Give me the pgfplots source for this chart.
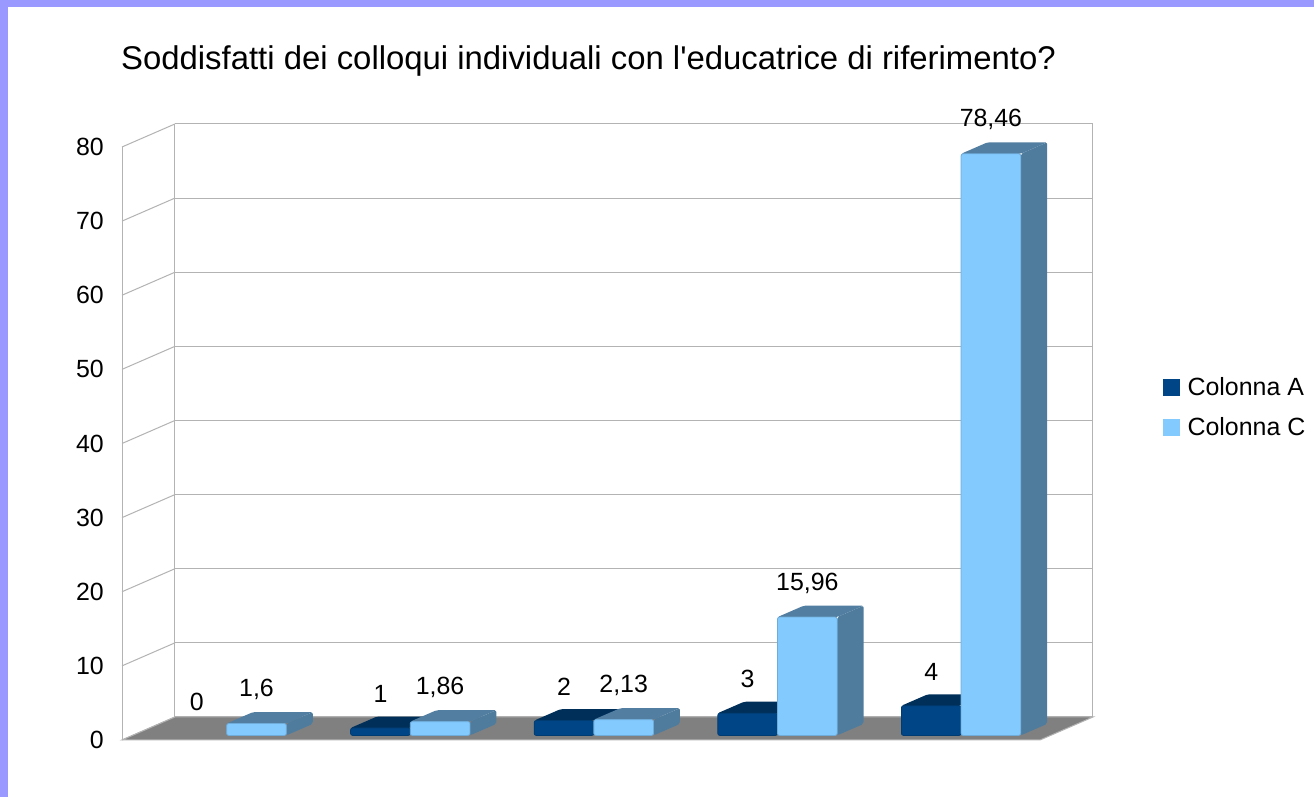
\documentclass[border=0pt]{standalone}
\usepackage{fontspec}
\setmainfont{Liberation Sans}
\usepackage{pgfplots}
\pgfplotsset{compat=1.18}
\definecolor{lav}{HTML}{9999FF}
\definecolor{gridc}{HTML}{B3B3B3}
\definecolor{floorc}{HTML}{808080}
\definecolor{colA}{HTML}{004586}
\definecolor{colAt}{HTML}{00305A}
\definecolor{colAs}{HTML}{002848}
\definecolor{colC}{HTML}{83CAFF}
\definecolor{colCt}{HTML}{527FA1}
\definecolor{colCs}{HTML}{4F7C9D}
\newcommand{\tdbar}[5]{%
 \pgfmathsetmacro\tbxa{#1}%
 \pgfmathsetmacro\tbxb{#1+0.325}%
 \pgfmathsetmacro\tbxc{#1+0.325+0.144}%
 \pgfmathsetmacro\tbxd{#1+0.144}%
 \pgfmathsetmacro\tbya{0.62}%
 \pgfmathsetmacro\tbyb{#2+0.62}%
 \pgfmathsetmacro\tbyc{0.62+1.55}%
 \pgfmathsetmacro\tbyd{#2+0.62+1.55}%
 \edef\tbdoit{%
  \noexpand\addplot[fill=#5,draw=none,rounded corners=2bp] coordinates {(\tbxb,\tbya) (\tbxc,\tbyc) (\tbxc,\tbyd) (\tbxb,\tbyb)} -- cycle;
  \noexpand\addplot[fill=#4,draw=none,rounded corners=2bp] coordinates {(\tbxa,\tbyb) (\tbxb,\tbyb) (\tbxc,\tbyd) (\tbxd,\tbyd)} -- cycle;
  \noexpand\addplot[fill=#3,draw=#3!85!black,line width=0.8bp,rounded corners=2bp] coordinates {(\tbxa,\tbya) (\tbxb,\tbya) (\tbxb,\tbyb) (\tbxa,\tbyb)} -- cycle;
 }\tbdoit}
\begin{document}
\begin{tikzpicture}
\path[use as bounding box] (0bp,0bp) rectangle (1314bp,797bp);
\fill[lav] (0bp,0bp) rectangle (1314bp,797bp);
\fill[white] (8bp,0bp) rectangle (1314bp,790bp);
\node[anchor=base, font=\fontsize{33}{40}\selectfont, inner sep=0pt] at (588.5bp,727bp) {Soddisfatti dei colloqui individuali con l\textquotesingle educatrice di riferimento?};
\begin{axis}[
  at={(122bp,57bp)}, anchor=south west,
  scale only axis, width=970.9bp, height=616bp,
  xmin=-0.5, xmax=4.788, ymin=0, ymax=83.103,
  clip=false,
  axis line style={draw=none},
  xtick=\empty,
  ytick={0,10,...,80},
  major tick length=0pt,
  /pgf/number format/assume math mode=true,
  yticklabel style={font=\fontsize{25}{30}\selectfont, anchor=east, inner sep=0pt, xshift=-18bp},
  unbounded coords=jump,
  legend style={draw=none, fill=none, at={(1.0722,0.5405)}, anchor=west, inner sep=0pt,
    row sep=20bp, font=\fontsize{25}{30}\selectfont, nodes={inner sep=0pt},
    /tikz/every odd column/.append style={column sep=8bp}},
  legend cell align=left,
]
\addlegendimage{legend image code/.code={\fill[colA] (0bp,-8bp) rectangle (16bp,8bp);}}
\addlegendentry{Colonna A}
\addlegendimage{legend image code/.code={\fill[colC] (0bp,-8bp) rectangle (16bp,8bp);}}
\addlegendentry{Colonna C}
% back wall horizontal grid lines
\addplot[gridc, line width=1bp] coordinates {
 (-0.212,3.103) (4.788,3.103) (nan,nan)
 (-0.212,13.103) (4.788,13.103) (nan,nan)
 (-0.212,23.103) (4.788,23.103) (nan,nan)
 (-0.212,33.103) (4.788,33.103) (nan,nan)
 (-0.212,43.103) (4.788,43.103) (nan,nan)
 (-0.212,53.103) (4.788,53.103) (nan,nan)
 (-0.212,63.103) (4.788,63.103) (nan,nan)
 (-0.212,73.103) (4.788,73.103) (nan,nan)
 (-0.212,83.103) (4.788,83.103)
};
% left wall slanted grid lines
\addplot[gridc, line width=1bp] coordinates {
 (-0.5,0) (-0.212,3.103) (nan,nan)
 (-0.5,10) (-0.212,13.103) (nan,nan)
 (-0.5,20) (-0.212,23.103) (nan,nan)
 (-0.5,30) (-0.212,33.103) (nan,nan)
 (-0.5,40) (-0.212,43.103) (nan,nan)
 (-0.5,50) (-0.212,53.103) (nan,nan)
 (-0.5,60) (-0.212,63.103) (nan,nan)
 (-0.5,70) (-0.212,73.103) (nan,nan)
 (-0.5,80) (-0.212,83.103)
};
% wall edges
\addplot[gridc, line width=1bp] coordinates {
 (-0.5,0) (-0.5,80) (nan,nan)
 (-0.212,3.103) (-0.212,83.103) (nan,nan)
 (4.788,3.103) (4.788,83.103)
};
% floor
\addplot[fill=floorc, draw=gridc, line width=1bp] coordinates {(-0.5,0) (4.5,0) (4.788,3.103) (-0.212,3.103)} -- cycle;
% bars (left to right)
\tdbar{0.07}{1.6}{colC}{colCt}{colCs}
\tdbar{0.745}{1}{colA}{colAt}{colAs}
\tdbar{1.07}{1.86}{colC}{colCt}{colCs}
\tdbar{1.745}{2}{colA}{colAt}{colAs}
\tdbar{2.07}{2.13}{colC}{colCt}{colCs}
\tdbar{2.745}{3}{colA}{colAt}{colAs}
\tdbar{3.07}{15.96}{colC}{colCt}{colCs}
\tdbar{3.745}{4}{colA}{colAt}{colAs}
\tdbar{4.07}{78.46}{colC}{colCt}{colCs}
% data labels
\addplot[draw=none, nodes near coords, point meta=explicit symbolic,
  nodes near coords style={font=\fontsize{25}{30}\selectfont, anchor=center, inner sep=0pt}]
 coordinates {
 (-0.0925,5.2) [0]
 (0.9075,6.2) [1]
 (1.9075,7.2) [2]
 (2.9075,8.2) [3]
 (3.9075,9.2) [4]
 (0.2325,6.8) [1,6]
 (1.2325,7.06) [1,86]
 (2.2325,7.33) [2,13]
 (3.2325,21.16) [15,96]
 (4.2325,83.66) [78,46]
};
\end{axis}
\end{tikzpicture}
\end{document}
